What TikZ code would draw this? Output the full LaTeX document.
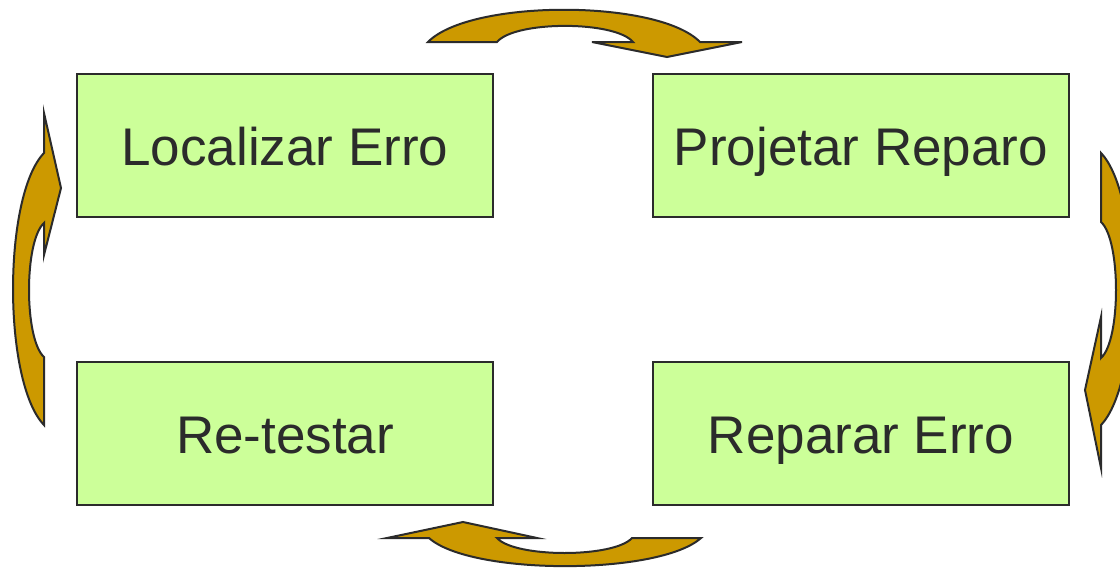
\documentclass[tikz,border=0pt]{standalone}
\usepackage{fontspec}
\setmainfont{Liberation Sans}
\definecolor{boxfill}{HTML}{CCFF99}
\definecolor{arrowfill}{HTML}{CC9900}
\definecolor{edge}{HTML}{2B2B2B}
\tikzset{
  stepbox/.style={draw=edge, line width=2pt, fill=boxfill, minimum width=416pt, minimum height=143pt,
    inner sep=0pt, text height=39pt, text depth=0pt, text=edge, font=\fontsize{53}{60}\selectfont},
  cyclearrow/.style={draw=edge, line width=2pt, fill=arrowfill, line join=miter}
}
\begin{document}
\begin{tikzpicture}[x=1pt,y=-1pt]
\useasboundingbox (0,0) rectangle (1120,568);
\clip (0,0) rectangle (1120,568);
\fill[white] (0,0) rectangle (1120,568);
% boxes
\node[stepbox] (loc) at (285,145.7) {Localizar Erro};
\node[stepbox] (proj) at (861,145.7) {Projetar Reparo};
\node[stepbox] (retest) at (285,433.7) {Re-testar};
\node[stepbox] (rep) at (861,433.7) {Reparar Erro};
% top arrow
\draw[cyclearrow] (428,42) .. controls (470,-1) and (658,-1) .. (700,42)
  -- (742,42) -- (667,57) -- (592,42) -- (633,42)
  .. controls (615,20.5) and (515,20.5) .. (497,42) -- cycle;
% right arrow
\draw[cyclearrow] (1101,153) .. controls (1142,196) and (1142,382) .. (1101,425)
  -- (1101,468) -- (1085,390) -- (1101,317) -- (1101,358)
  .. controls (1121,340) and (1121,240) .. (1101,222) -- cycle;
% bottom arrow
\draw[cyclearrow] (429,538) .. controls (471,575.5) and (659,575.5) .. (701,538)
  -- (632,538) .. controls (614,558) and (515,558) .. (497,538)
  -- (537,538) -- (463,522) -- (387,538) -- cycle;
% left arrow
\draw[cyclearrow] (44,425) .. controls (2.7,382) and (2.7,196) .. (44,153)
  -- (44,113) -- (61,188) -- (44,255) -- (44,223)
  .. controls (24,241) and (24,339) .. (44,357) -- cycle;
\end{tikzpicture}
\end{document}
